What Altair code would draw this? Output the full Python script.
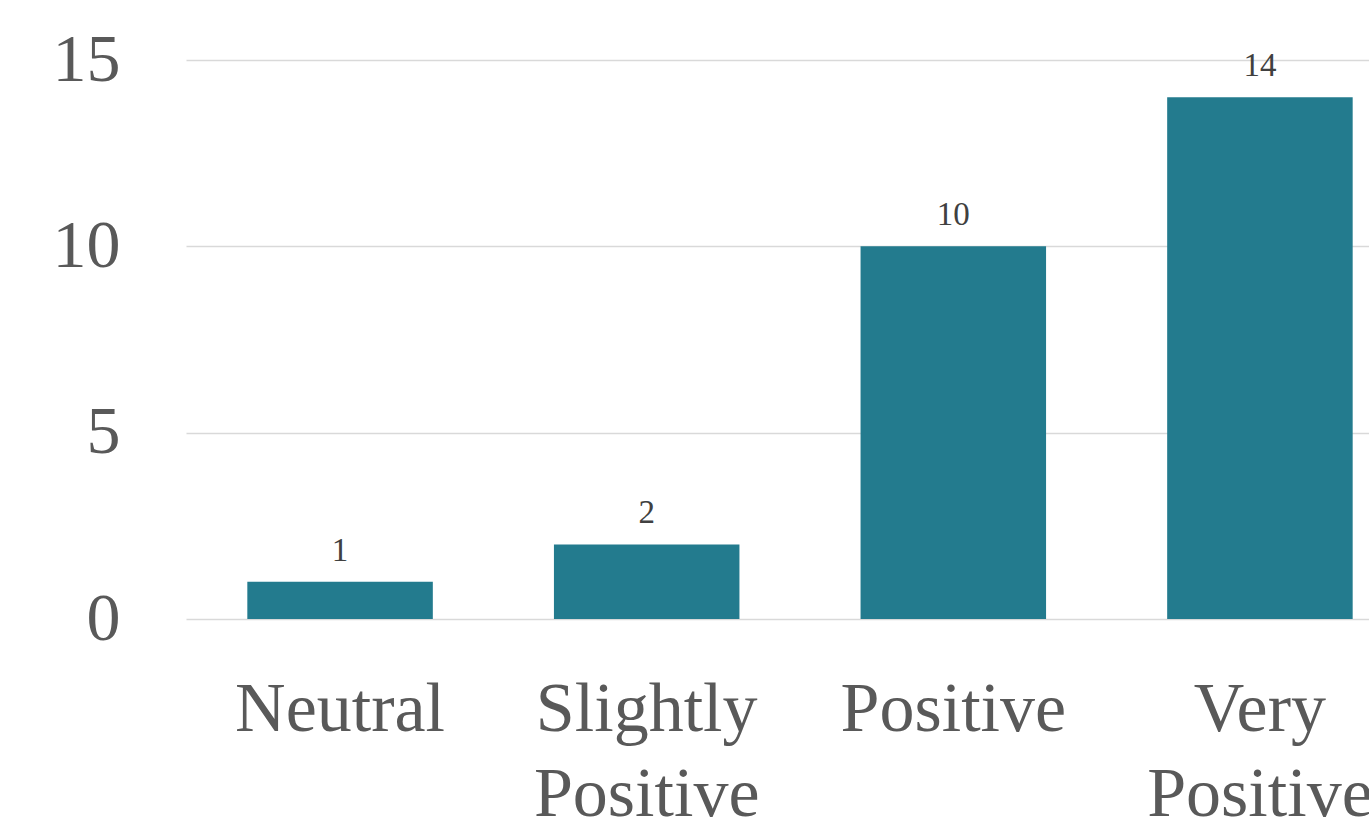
import altair as alt
import pandas as pd

# Sentiment categories and response counts
categories = ["Neutral", "Slightly Positive", "Positive", "Very Positive"]
counts = [1, 2, 10, 14]
y_ticks = [0, 5, 10, 15]

df = pd.DataFrame({"sentiment": categories, "count": counts})

FONT = "Palatino Linotype, Palatino, Book Antiqua, Liberation Serif, serif"
BAR_COLOR = "#237b8e"

x_enc = alt.X(
    "sentiment:N",
    sort=categories,
    title=None,
    scale=alt.Scale(range=[0, 1228], paddingInner=0.395, paddingOuter=0.2),
    axis=alt.Axis(
        labelAngle=0,
        labelFont=FONT,
        labelFontSize=70,
        labelColor="#595959",
        labelPadding=56,
        labelLineHeight=85,
        labelLimit=0,
        labelExpr="split(datum.label, ' ')",
        labelOverlap=False,
        labelBound=False,
        labelFlush=False,
        ticks=False,
        domain=False,
        grid=False,
    ),
)

y_enc = alt.Y(
    "count:Q",
    title=None,
    scale=alt.Scale(domain=[0, 15], nice=False),
    axis=alt.Axis(
        values=y_ticks,
        labelFont=FONT,
        labelFontSize=68,
        labelColor="#595959",
        labelPadding=66,
        labelLimit=0,
        ticks=False,
        domain=False,
        grid=True,
        gridColor="#d9d9d9",
        gridWidth=1.5,
        labelFlush=False,
        labelBound=False,
    ),
)

bars = alt.Chart(df).mark_bar(color=BAR_COLOR).encode(x=x_enc, y=y_enc)

labels = alt.Chart(df).mark_text(
    font=FONT,
    fontSize=33,
    color="#404040",
    baseline="alphabetic",
    align="center",
    dy=-21,
).encode(
    x=alt.X("sentiment:N", sort=categories),
    y=alt.Y("count:Q"),
    text=alt.Text("count:Q"),
)

chart = (
    alt.layer(bars, labels)
    .properties(
        width=1183,
        height=559,
        background="white",
        autosize=alt.AutoSizeParams(type="none"),
        padding={"left": 186, "top": 60, "right": 0, "bottom": 203},
    )
    .configure_view(strokeWidth=0)
    .configure_axis(domain=False, ticks=False)
    .configure_axisX(grid=False)
)

chart.save("out.html", embed_options={"renderer": "svg", "actions": False})
